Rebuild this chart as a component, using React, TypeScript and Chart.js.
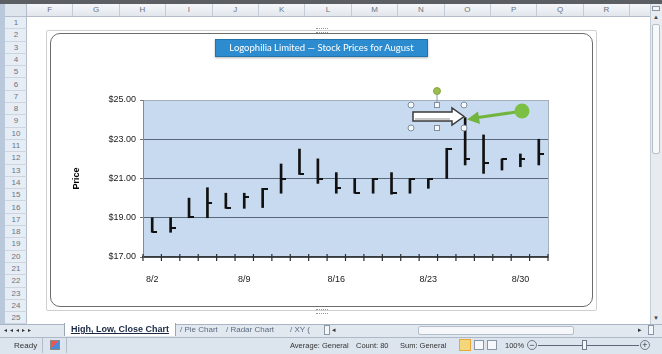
import React, { useEffect, useRef } from 'react';
import { Chart, registerables } from 'chart.js';

Chart.register(...registerables);

// ---- data ----
const dates = ['8/2', '8/3', '8/4', '8/5', '8/6', '8/9', '8/10', '8/11', '8/12', '8/13', '8/16', '8/17', '8/18', '8/19', '8/20', '8/23', '8/24', '8/25', '8/26', '8/27', '8/30', '8/31'];
const highs = [19.0, 19.0, 20.0, 20.53, 20.25, 20.25, 20.5, 21.74, 22.5, 22.0, 21.3, 21.0, 21.0, 21.3, 21.0, 21.0, 22.54, 24.1, 23.22, 22.0, 22.25, 23.0];
const lows = [18.26, 18.26, 19.0, 19.0, 19.48, 19.48, 19.52, 20.25, 21.21, 20.75, 20.25, 20.25, 20.25, 20.2, 20.25, 20.5, 21.0, 21.69, 21.26, 21.43, 21.6, 21.69];
const closes = [18.28, 18.49, 19.03, 19.74, 19.5, 20.04, 20.48, 21.0, 21.25, 21.0, 20.5, 20.27, 20.98, 20.25, 20.98, 20.98, 22.52, 22.0, 21.77, 21.98, 22.0, 22.25];
const yMin = 17;
const yMax = 25;
const yStep = 2;

const chartTitle = 'Logophilia Limited \u2014 Stock Prices for August';
const axisTitle = 'Price';
const columns = ['F', 'G', 'H', 'I', 'J', 'K', 'L', 'M', 'N', 'O', 'P', 'Q', 'R'];
const rowNumbers = [1, 2, 3, 4, 5, 6, 7, 8, 9, 10, 11, 12, 13, 14, 15, 16, 17, 18, 19, 20, 21, 22, 23, 24, 25];
const otherTabs = ['Pie Chart', 'Radar Chart', 'XY ('];

const UI_FONT = '"Liberation Sans", Arial, sans-serif';

const decorPlugin = {
  id: 'hlcDecor',
  beforeDraw(chart: any) {
    const { ctx, chartArea } = chart;
    ctx.save();
    ctx.fillStyle = '#c8daef';
    ctx.fillRect(chartArea.left, chartArea.top, chartArea.right - chartArea.left, chartArea.bottom - chartArea.top);
    ctx.restore();
  },
  afterDraw(chart: any) {
    const { ctx, chartArea } = chart;
    const xs = chart.scales.x;
    const n = dates.length;
    ctx.save();
    // right plot border
    ctx.strokeStyle = '#a6b0bc';
    ctx.lineWidth = 1;
    ctx.beginPath();
    ctx.moveTo(chartArea.right + 0.5, chartArea.top);
    ctx.lineTo(chartArea.right + 0.5, chartArea.bottom);
    ctx.stroke();
    // crossing tick marks on the category axis
    ctx.strokeStyle = '#2e2e2e';
    ctx.lineWidth = 1.2;
    for (let i = 0; i <= n; i++) {
      let x;
      if (i === 0) x = chartArea.left;
      else if (i === n) x = chartArea.right;
      else x = (xs.getPixelForValue(i - 1) + xs.getPixelForValue(i)) / 2;
      ctx.beginPath();
      ctx.moveTo(x, chartArea.bottom - 3);
      ctx.lineTo(x, chartArea.bottom + 4);
      ctx.stroke();
    }
    ctx.restore();
  },
};

function HLCChart() {
  const ref = useRef<HTMLCanvasElement | null>(null);
  useEffect(() => {
    const canvas = ref.current;
    if (!canvas) return;
    const tick = document.createElement('canvas');
    tick.width = 10;
    tick.height = 2;
    const tctx = tick.getContext('2d');
    if (tctx) {
      tctx.fillStyle = '#111';
      tctx.fillRect(5, 0, 5, 2);
    }
    const font = { size: 9, family: UI_FONT };
    const chart = new Chart(canvas, {
      type: 'bar',
      data: {
        labels: dates,
        datasets: [
          {
            type: 'line',
            label: 'Close',
            data: closes,
            showLine: false,
            pointStyle: tick as any,
            pointRadius: 3,
            pointHoverRadius: 3,
            borderColor: '#111',
            backgroundColor: '#111',
            order: 0,
          } as any,
          {
            type: 'bar',
            label: 'High-Low',
            data: lows.map((l, i) => [l, highs[i]]),
            backgroundColor: '#111',
            barThickness: 2,
            borderWidth: 0,
            order: 1,
          } as any,
        ],
      },
      options: {
        responsive: false,
        animation: false,
        layout: { padding: { top: 66, right: 44, bottom: 20, left: 0 } },
        plugins: {
          legend: { display: false },
          tooltip: { enabled: false },
        },
        scales: {
          x: {
            type: 'category',
            offset: true,
            grid: { display: false },
            border: { display: true, color: '#3a3a3a', width: 1.5 },
            ticks: {
              autoSkip: false,
              maxRotation: 0,
              padding: 9,
              color: '#1a1a1a',
              font,
              callback: (_v: any, i: number) => (i % 5 === 0 ? dates[i] : ''),
            },
            afterFit: (s: any) => {
              s.height = 29;
            },
          },
          y: {
            min: yMin,
            max: yMax,
            ticks: {
              stepSize: yStep,
              padding: 4,
              color: '#1a1a1a',
              font,
              callback: (v: any) => '$' + Number(v).toFixed(2),
            },
            grid: {
              color: (c: any) => (c.tick && c.tick.value === yMax ? '#a6b0bc' : '#58677a'),
              lineWidth: 1,
              tickLength: 3,
              tickColor: '#777',
            },
            border: { color: '#8a8a8a', width: 1 },
            title: {
              display: true,
              text: axisTitle,
              color: '#000',
              font: { size: 9, weight: 'bold', family: UI_FONT },
              padding: { top: 20, bottom: 0 },
            },
            afterFit: (s: any) => {
              s.width = 92;
            },
          },
        },
      } as any,
      plugins: [decorPlugin],
    });
    return () => chart.destroy();
  }, []);
  return (
    <canvas
      ref={ref}
      width={541}
      height={272}
      style={{ position: 'absolute', left: 51, top: 34, width: 541, height: 272 }}
    />
  );
}

const abs = (s: React.CSSProperties): React.CSSProperties => ({ position: 'absolute', ...s });

export default function App() {
  const colW = 46.4;
  const rowH = 12.3;
  return (
    <div
      style={{
        position: 'fixed',
        left: 0,
        top: 0,
        width: 662,
        height: 354,
        overflow: 'hidden',
        background: '#ffffff',
        fontFamily: UI_FONT,
      }}
    >
      {/* top band */}
      <div style={abs({ left: 0, top: 0, width: 662, height: 4, background: '#5b5e62' })} />
      {/* column header */}
      <div
        style={abs({
          left: 0,
          top: 4,
          width: 650,
          height: 12,
          background: 'linear-gradient(#f4f6f9,#e2e7ed)',
          borderBottom: '1px solid #b4beca',
        })}
      />
      {columns.map((c, i) => (
        <div
          key={c}
          style={abs({
            left: 27 + i * colW,
            top: 4,
            width: colW,
            height: 12,
            borderRight: '1px solid #c4ccd6',
            boxSizing: 'border-box',
            fontSize: 8,
            lineHeight: '12px',
            color: '#6a7380',
            textAlign: 'center',
          })}
        >
          {c}
        </div>
      ))}
      {/* corner */}
      <div style={abs({ left: 5, top: 4, width: 22, height: 12, background: '#dfe5ec', borderRight: '1px solid #b4beca', boxSizing: 'border-box' })} />
      {/* left edge + row header */}
      <div style={abs({ left: 0, top: 4, width: 5, height: 320, background: '#b9c8db' })} />
      <div
        style={abs({
          left: 5,
          top: 17,
          width: 22,
          height: 307,
          background: '#e7edf5',
          borderRight: '1px solid #b4beca',
          boxSizing: 'border-box',
        })}
      />
      {rowNumbers.map((r) => (
        <div
          key={r}
          style={abs({
            left: 5,
            top: 17 + (r - 1) * rowH,
            width: 22,
            height: rowH,
            borderBottom: '1px solid #cdd5e0',
            boxSizing: 'border-box',
            fontSize: 8,
            lineHeight: rowH + 'px',
            color: '#6a7380',
            textAlign: 'center',
          })}
        >
          {r}
        </div>
      ))}
      {/* right scrollbar */}
      <div style={abs({ left: 650, top: 4, width: 12, height: 320, background: '#e8ecf1', borderLeft: '1px solid #c4ccd6', boxSizing: 'border-box' })} />
      <div style={abs({ left: 652, top: 6, width: 8, height: 5, border: '1px solid #8c96a3', boxSizing: 'border-box', background: '#f4f6f8' })} />
      <div style={abs({ left: 651, top: 13, width: 10, height: 8, fontSize: 6, color: '#444', textAlign: 'center', lineHeight: '8px' })}>{'\u25B2'}</div>
      <div style={abs({ left: 652, top: 24, width: 8, height: 130, border: '1px solid #b5bec9', boxSizing: 'border-box', background: '#f6f8fa', borderRadius: 2 })} />
      <div style={abs({ left: 651, top: 314, width: 10, height: 8, fontSize: 6, color: '#444', textAlign: 'center', lineHeight: '8px' })}>{'\u25BC'}</div>

      {/* chart frame */}
      <div style={abs({ left: 46, top: 30, width: 551, height: 281, border: '1px solid #cfcfcf', boxSizing: 'border-box', borderRadius: 2 })} />
      <div
        style={abs({
          left: 50,
          top: 33,
          width: 543,
          height: 274,
          border: '1.5px solid #6c6c6c',
          boxSizing: 'border-box',
          borderRadius: 10,
          background: '#ffffff',
        })}
      />
      <div style={abs({ left: 316, top: 28, width: 12, height: 3, borderTop: '1px dotted #999', borderBottom: '1px dotted #999' })} />
      <div style={abs({ left: 316, top: 309, width: 12, height: 3, borderTop: '1px dotted #999', borderBottom: '1px dotted #999' })} />
      <HLCChart />

      {/* chart title */}
      <div
        style={abs({
          left: 215,
          top: 39,
          width: 213,
          height: 18,
          background: '#2d8ccf',
          border: '1px solid #2272ad',
          boxSizing: 'border-box',
          color: '#ffffff',
          fontFamily: 'Lato, "Open Sans", sans-serif',
          fontSize: 9.5,
          lineHeight: '16px',
          textAlign: 'center',
          whiteSpace: 'nowrap',
          boxShadow: '0 1px 2px rgba(0,0,0,0.3)',
        })}
      >
        {chartTitle}
      </div>

      {/* shapes overlay */}
      <svg width={662} height={354} style={abs({ left: 0, top: 0, pointerEvents: 'none' })}>
        {/* block arrow */}
        <path d="M413 112 L452 112 L452 108 L464 116.5 L452 125 L452 121 L413 121 Z" fill="#ffffff" stroke="#3a3a3a" strokeWidth={1.5} />
        <path d="M415 119 L450 119" stroke="#c9c9c9" strokeWidth={2} />
        {/* rotation handle */}
        <line x1={437} y1={93} x2={437} y2={105} stroke="#8a9aaa" strokeWidth={1} />
        <circle cx={437} cy={91} r={3.5} fill="#9cbd4e" stroke="#7a9a3a" strokeWidth={0.8} />
        {/* selection handles */}
        {[
          [411, 105],
          [464, 105],
          [411, 128],
          [464, 128],
        ].map(([cx, cy], i) => (
          <circle key={'c' + i} cx={cx} cy={cy} r={3} fill="#f7f9fb" stroke="#7d8ea0" strokeWidth={1} />
        ))}
        {[
          [437, 105],
          [437, 128],
        ].map(([cx, cy], i) => (
          <rect key={'r' + i} x={cx - 2.5} y={cy - 2.5} width={5} height={5} fill="#f7f9fb" stroke="#7d8ea0" strokeWidth={1} />
        ))}
        {/* green callout arrow */}
        <line x1={516} y1={112} x2={478} y2={117.5} stroke="#72b53e" strokeWidth={3} />
        <polygon points="467,119.5 478,111.5 480,124" fill="#72b53e" />
        <circle cx={522} cy={111} r={7.5} fill="#7cc043" />
      </svg>

      {/* sheet tab bar */}
      <div style={abs({ left: 0, top: 324, width: 662, height: 13, background: '#e1e8f0', borderTop: '1px solid #a9b5c4', boxSizing: 'border-box' })} />
      <div style={abs({ left: 4, top: 325, width: 52, height: 11, fontSize: 6, color: '#333', lineHeight: '11px', letterSpacing: 3 })}>
        {'\u25C2\u25C2\u25C2\u25B8\u25B8'}
      </div>
      <div
        style={abs({
          left: 64,
          top: 323,
          width: 112,
          height: 13,
          background: '#ffffff',
          borderLeft: '1px solid #9aa6b4',
          borderRight: '1px solid #9aa6b4',
          boxSizing: 'border-box',
          fontSize: 9,
          fontWeight: 'bold',
          color: '#1a2a44',
          textDecoration: 'underline',
          textAlign: 'center',
          lineHeight: '13px',
          whiteSpace: 'nowrap',
        })}
      >
        High, Low, Close Chart
      </div>
      {otherTabs.map((t, i) => (
        <div
          key={t}
          style={abs({
            left: [180, 226, 290][i],
            top: 324,
            height: 12,
            fontSize: 8,
            color: '#5b6b80',
            lineHeight: '12px',
            whiteSpace: 'nowrap',
          })}
        >
          {'/ ' + t}
        </div>
      ))}
      <div style={abs({ left: 324, top: 325, width: 6, height: 10, border: '1px solid #8a96a5', boxSizing: 'border-box', background: '#f4f6f8' })} />
      <div style={abs({ left: 332, top: 324, fontSize: 7, color: '#333', lineHeight: '12px' })}>{'\u25C2'}</div>
      <div style={abs({ left: 418, top: 326, width: 156, height: 9, border: '1px solid #b3bdc9', boxSizing: 'border-box', background: '#f5f7fa', borderRadius: 2 })} />
      <div style={abs({ left: 638, top: 324, fontSize: 7, color: '#333', lineHeight: '12px' })}>{'\u25B8'}</div>
      <div style={abs({ left: 648, top: 325, width: 6, height: 10, border: '1px solid #8a96a5', boxSizing: 'border-box', background: '#f4f6f8' })} />

      {/* status bar */}
      <div style={abs({ left: 0, top: 337, width: 662, height: 17, background: '#dce4ee', borderTop: '1px solid #aeb9c7', boxSizing: 'border-box' })} />
      <div style={abs({ left: 14, top: 339, fontSize: 8, color: '#333', lineHeight: '13px' })}>Ready</div>
      <div style={abs({ left: 42, top: 338, width: 1, height: 15, background: '#b3bdc9' })} />
      <div style={abs({ left: 50, top: 340, width: 10, height: 10, background: 'linear-gradient(135deg,#e55 0 45%,#4a8ad6 45% 100%)', border: '1px solid #888', boxSizing: 'border-box' })} />
      <div style={abs({ left: 66, top: 338, width: 1, height: 15, background: '#b3bdc9' })} />
      <div style={abs({ left: 290, top: 339, fontSize: 7.5, color: '#333', lineHeight: '13px', whiteSpace: 'nowrap' })}>Average: General</div>
      <div style={abs({ left: 356, top: 339, fontSize: 7.5, color: '#333', lineHeight: '13px', whiteSpace: 'nowrap' })}>Count: 80</div>
      <div style={abs({ left: 400, top: 339, fontSize: 7.5, color: '#333', lineHeight: '13px', whiteSpace: 'nowrap' })}>Sum: General</div>
      <div style={abs({ left: 459, top: 339, width: 12, height: 12, border: '1.5px solid #e8a93a', background: '#f3d77a', boxSizing: 'border-box' })} />
      <div style={abs({ left: 474, top: 340, width: 10, height: 10, border: '1px solid #8a96a5', background: '#f6f8fb', boxSizing: 'border-box' })} />
      <div style={abs({ left: 487, top: 340, width: 10, height: 10, border: '1px solid #8a96a5', background: '#f6f8fb', boxSizing: 'border-box' })} />
      <div style={abs({ left: 505, top: 339, fontSize: 7.5, color: '#333', lineHeight: '13px' })}>100%</div>
      <div style={abs({ left: 527, top: 340, width: 10, height: 10, borderRadius: 5, border: '1px solid #6d7a8a', boxSizing: 'border-box', fontSize: 9, lineHeight: '8px', textAlign: 'center', color: '#333' })}>{'\u2212'}</div>
      <div style={abs({ left: 538, top: 345, width: 101, height: 1, background: '#5c6877' })} />
      <div style={abs({ left: 582, top: 340, width: 5, height: 10, border: '1px solid #6d7a8a', background: '#f6f8fb', boxSizing: 'border-box' })} />
      <div style={abs({ left: 640, top: 340, width: 10, height: 10, borderRadius: 5, border: '1px solid #6d7a8a', boxSizing: 'border-box', fontSize: 9, lineHeight: '8px', textAlign: 'center', color: '#333' })}>+</div>
    </div>
  );
}
